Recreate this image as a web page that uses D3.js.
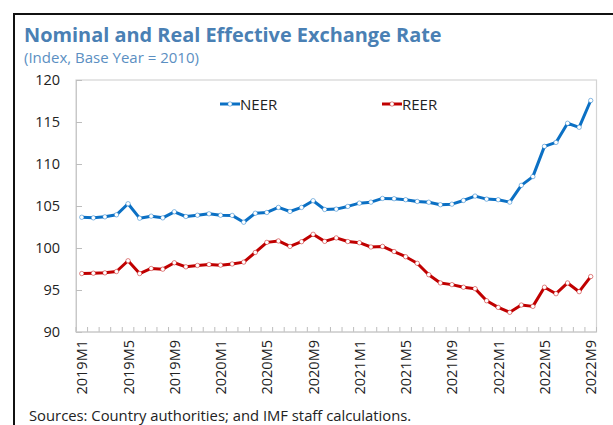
<!DOCTYPE html>
<html>
<head>
<meta charset="utf-8">
<script src="https://cdn.jsdelivr.net/npm/d3@7"></script>
<style>
  html, body { margin: 0; padding: 0; background: #fff; }
  svg { display: block; }
</style>
</head>
<body>
<svg id="chart" width="613" height="425"></svg>
<script>
// Monthly periods 2019M1 .. 2022M9
const periods = [];
for (let y = 2019; y <= 2022; y++) {
  for (let m = 1; m <= 12; m++) {
    if (y === 2022 && m > 9) break;
    periods.push(y + "M" + m);
  }
}

// Nominal effective exchange rate (2010 = 100)
const neer = [
  103.66, 103.59, 103.71, 103.95, 105.27, 103.55, 103.79, 103.59, 104.31, 103.75,
  103.90, 104.07, 103.90, 103.88, 103.07, 104.14, 104.23, 104.83, 104.35, 104.83,
  105.63, 104.59, 104.63, 104.95, 105.34, 105.46, 105.90, 105.87, 105.75, 105.54,
  105.45, 105.15, 105.22, 105.66, 106.18, 105.82, 105.75, 105.46, 107.46, 108.50,
  112.10, 112.57, 114.85, 114.37, 117.56
];

// Real effective exchange rate (2010 = 100)
const reer = [
  96.96, 97.00, 97.04, 97.20, 98.48, 96.96, 97.56, 97.48, 98.24, 97.76,
  97.92, 98.04, 97.96, 98.10, 98.32, 99.47, 100.67, 100.84, 100.19, 100.75,
  101.63, 100.79, 101.20, 100.77, 100.63, 100.12, 100.19, 99.58, 98.96, 98.18,
  96.82, 95.84, 95.64, 95.33, 95.16, 93.72, 92.93, 92.34, 93.21, 93.05,
  95.33, 94.56, 95.84, 94.80, 96.60
];

const yTicks = [90, 95, 100, 105, 110, 115, 120];
const seriesNames = ["NEER", "REER"];
const seriesColors = ["#0b70c4", "#c00000"];

const svg = d3.select("#chart");

// Outer frame
svg.append("path")
  .attr("d", "M14,425 L14,14 L613,14")
  .attr("fill", "none")
  .attr("stroke", "#111")
  .attr("stroke-width", 2);

// Title block
svg.append("text")
  .attr("x", 24).attr("y", 42)
  .attr("font-family", "'Open Sans', sans-serif")
  .attr("font-weight", "bold")
  .attr("font-size", 19.9)
  .attr("fill", "#4a80b4")
  .text("Nominal and Real Effective Exchange Rate");

svg.append("text")
  .attr("x", 24).attr("y", 63)
  .attr("font-family", "'Open Sans', sans-serif")
  .attr("font-size", 15)
  .attr("fill", "#5b8fc2")
  .text("(Index, Base Year = 2010)");

const plot = { left: 76, right: 596.5, top: 80, bottom: 332 };

const x = d3.scaleBand()
  .domain(periods)
  .range([plot.left, plot.right])
  .paddingInner(0).paddingOuter(0);

const y = d3.scaleLinear()
  .domain([90, 120])
  .range([plot.bottom, plot.top]);

const cx = d => x(d) + x.bandwidth() / 2;

// Plot border
svg.append("rect")
  .attr("x", plot.left).attr("y", plot.top)
  .attr("width", plot.right - plot.left)
  .attr("height", plot.bottom - plot.top)
  .attr("fill", "none")
  .attr("stroke", "#d4d4d4")
  .attr("stroke-width", 1.2);

// Y axis with inward ticks
const yAxis = svg.append("g")
  .attr("transform", `translate(${plot.left},0)`)
  .call(d3.axisLeft(y).tickValues(yTicks).tickSize(-6).tickPadding(16).tickFormat(d3.format("d")));
yAxis.select(".domain").attr("stroke", "#c8c8c8");
yAxis.selectAll(".tick line").attr("stroke", "#bdbdbd");
yAxis.selectAll(".tick text")
  .attr("font-family", "'Open Sans', sans-serif")
  .attr("font-size", 14.5)
  .attr("fill", "#222");

// X axis: tick marks at category boundaries, labels every 4th month
const boundaries = periods.map(p => x(p)).concat([plot.right]);
svg.append("g").selectAll("line")
  .data(boundaries)
  .join("line")
  .attr("x1", d => d).attr("x2", d => d)
  .attr("y1", plot.bottom).attr("y2", plot.bottom - 5)
  .attr("stroke", "#bdbdbd");

svg.append("line")
  .attr("x1", plot.left).attr("x2", plot.right)
  .attr("y1", plot.bottom).attr("y2", plot.bottom)
  .attr("stroke", "#c8c8c8");

const labelled = periods.filter((p, i) => i % 4 === 0);
svg.append("g").selectAll("text")
  .data(labelled)
  .join("text")
  .attr("transform", d => `translate(${cx(d) + 5.5},${plot.bottom + 8}) rotate(-90)`)
  .attr("text-anchor", "end")
  .attr("font-family", "'Open Sans', sans-serif")
  .attr("font-size", 14.5)
  .attr("fill", "#222")
  .text(d => d);

// Series lines with hollow markers
const line = d3.line()
  .x((d, i) => cx(periods[i]))
  .y(d => y(d));

[neer, reer].forEach((vals, k) => {
  const g = svg.append("g");
  g.append("path")
    .datum(vals)
    .attr("d", line)
    .attr("fill", "none")
    .attr("stroke", seriesColors[k])
    .attr("stroke-width", 3)
    .attr("stroke-linejoin", "round");
  g.selectAll("circle")
    .data(vals)
    .join("circle")
    .attr("cx", (d, i) => cx(periods[i]))
    .attr("cy", d => y(d))
    .attr("r", 2.2)
    .attr("fill", "#fff")
    .attr("stroke", seriesColors[k])
    .attr("stroke-opacity", 0.6)
    .attr("stroke-width", 0.8);
});

// Legend
const legendX = [220, 382];
seriesNames.forEach((name, k) => {
  const g = svg.append("g").attr("transform", `translate(${legendX[k]},104)`);
  g.append("line")
    .attr("x1", 0).attr("x2", 20)
    .attr("y1", 0).attr("y2", 0)
    .attr("stroke", seriesColors[k])
    .attr("stroke-width", 3);
  g.append("circle")
    .attr("cx", 10).attr("cy", 0).attr("r", 2.2)
    .attr("fill", "#fff")
    .attr("stroke", seriesColors[k])
    .attr("stroke-opacity", 0.6)
    .attr("stroke-width", 0.8);
  g.append("text")
    .attr("x", 20).attr("y", 5.5)
    .attr("font-family", "'Open Sans', sans-serif")
    .attr("font-size", 15)
    .attr("fill", "#222")
    .text(name);
});

// Source note
svg.append("text")
  .attr("x", 29).attr("y", 421)
  .attr("font-family", "'Open Sans', sans-serif")
  .attr("font-size", 14.8)
  .attr("fill", "#222")
  .text("Sources: Country authorities; and IMF staff calculations.");
</script>
</body>
</html>
